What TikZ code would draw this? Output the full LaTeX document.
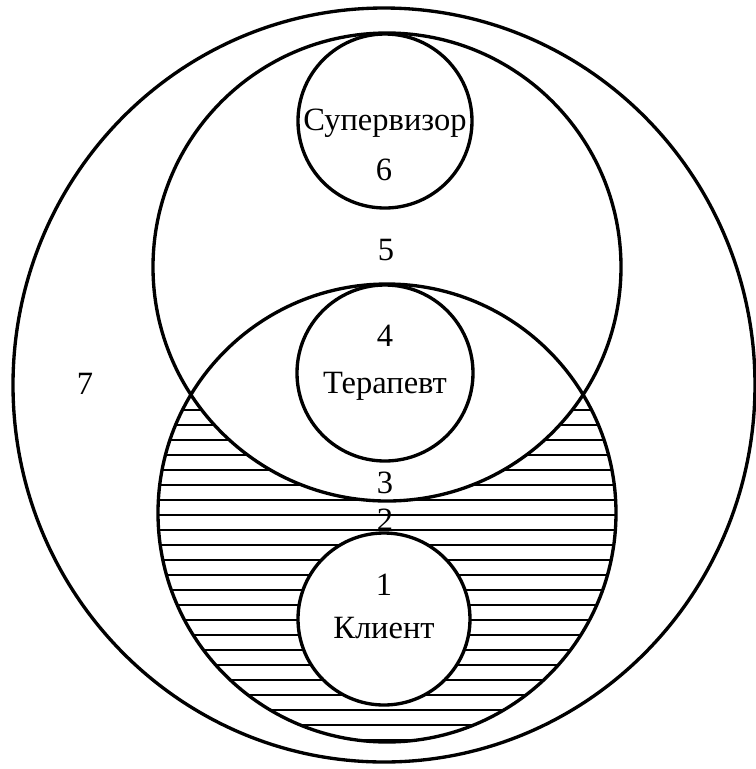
\documentclass[tikz,border=0pt]{standalone}
\usepackage{fontspec}
\setmainfont{Liberation Serif}
\begin{document}
\begin{tikzpicture}[x=0.02cm,y=-0.02cm,
  ring/.style={line width=1.9pt},
  hatchline/.style={line width=1.1pt},
  lbl/.style={font=\fontsize{18.5}{21}\selectfont, inner sep=0pt, anchor=base}]
\useasboundingbox (0,0) rectangle (756,769);
\fill[white] (0,0) rectangle (756,769);
% hatching: inside lower circle, outside upper circle and client circle
\begin{scope}
  \clip (387,513) circle [radius=229];
  \foreach \k in {0,...,22}
    \draw[hatchline] (150,410+15*\k) -- (630,410+15*\k);
\end{scope}
\fill[white] (387,267) circle [radius=234];
\fill[white] (384,619) circle [radius=86];
% circles
\draw[ring] (384,385) ellipse [x radius=371, y radius=377];
\draw[ring] (387,267) circle [radius=234];
\draw[ring] (387,513) circle [radius=229];
\draw[ring] (385,121) circle [radius=87];
\draw[ring] (385,373) circle [radius=88];
\draw[ring] (384,619) circle [radius=86];
% labels
\node[lbl] (sup) at (385,130) {Супервизор};
\node[lbl] (n6) at (384,180) {6};
\node[lbl] (n5) at (386,260) {5};
\node[lbl] (n4) at (385,346) {4};
\node[lbl] (ter) at (385,393) {Терапевт};
\node[lbl] (n7) at (85,394) {7};
\node[lbl] (n3) at (385,493) {3};
\node[lbl] (n2) at (385,530) {2};
\node[lbl] (n1) at (384,595) {1};
\node[lbl] (cli) at (384,638) {Клиент};
\end{tikzpicture}
\end{document}
